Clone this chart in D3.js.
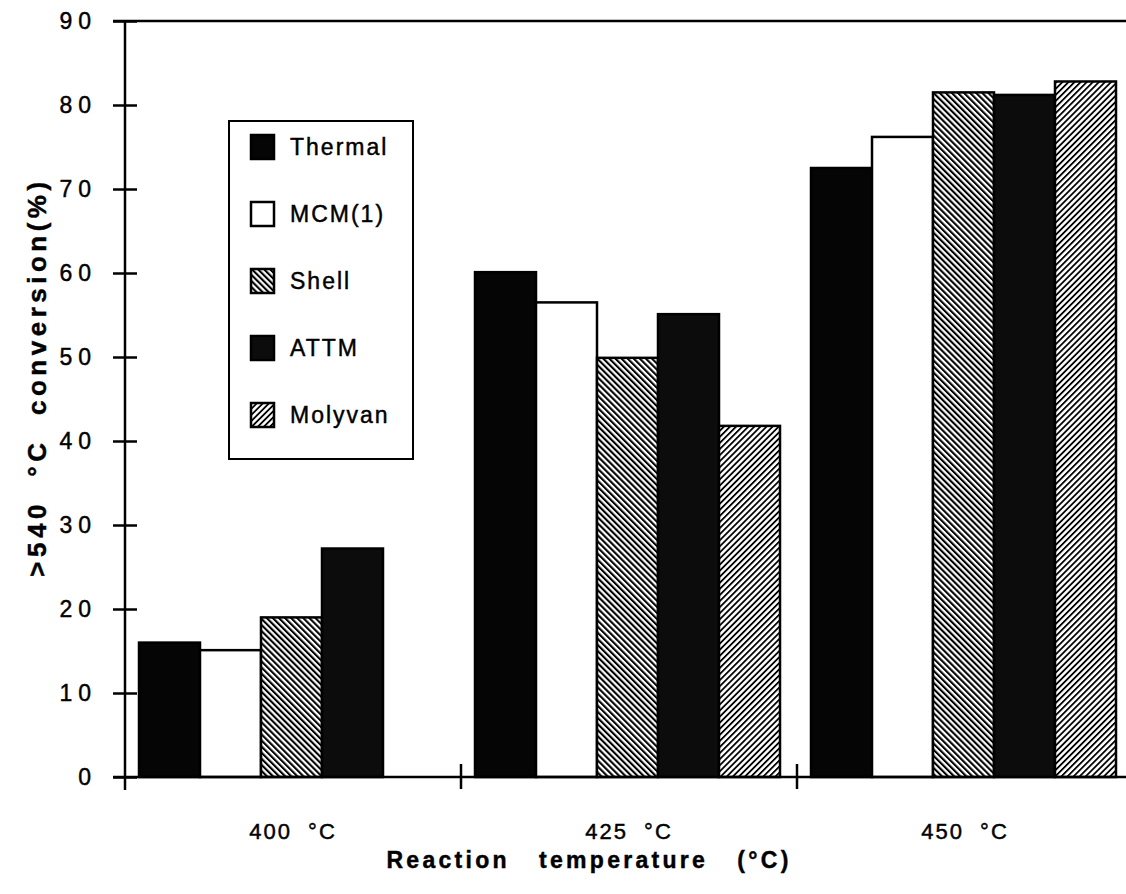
<!DOCTYPE html>
<html>
<head>
<meta charset="utf-8">
<script src="https://cdn.jsdelivr.net/npm/d3@7"></script>
<style>
  body { margin: 0; background: #fff; }
  svg { font-family: "Liberation Sans", Arial, sans-serif; }
  svg text { stroke: #000; stroke-width: 0.45px; fill: #000; }
</style>
</head>
<body>
<svg id="chart" width="1126" height="894"></svg>
<script>
const temps = ["400 °C", "425 °C", "450 °C"];
const series = ["Thermal", "MCM(1)", "Shell", "ATTM", "Molyvan"];
const thermal = [16.0, 60.1, 72.5];
const mcm = [15.1, 56.5, 76.2];
const shell = [19.0, 49.9, 81.5];
const attm = [27.2, 55.1, 81.2];
const molyvan = [null, 41.8, 82.8];
const yTicks = [0, 10, 20, 30, 40, 50, 60, 70, 80, 90];

const values = [thermal, mcm, shell, attm, molyvan];
const fills = ["#050505", "#fff", "url(#shellPat)", "#0c0c0c", "url(#molyPat)"];

const svg = d3.select("#chart");

// hatch patterns
const defs = svg.append("defs");
function hatch(id, angle, w) {
    const p = defs.append("pattern")
        .attr("id", id)
        .attr("patternUnits", "userSpaceOnUse")
        .attr("width", 4.3).attr("height", 10)
        .attr("patternTransform", `rotate(${angle})`);
    p.append("rect").attr("width", 4.3).attr("height", 10).attr("fill", "#fff");
    p.append("rect").attr("width", w).attr("height", 10).attr("fill", "#000");
}
hatch("shellPat", -45, 2.1);
hatch("molyPat", 45, 1.8);

const x = d3.scaleBand().domain(temps).range([125, 1133]);
const xi = d3.scaleBand().domain(series).range([14, 319]);
const y = d3.scaleLinear().domain([0, 90]).range([777, 21]);

// frame line at top
svg.append("line").attr("x1", 113).attr("x2", 1126).attr("y1", y(90)).attr("y2", y(90))
    .attr("stroke", "#000").attr("stroke-width", 2.5);

// bars
const rows = [];
temps.forEach((t, gi) => {
    series.forEach((s, si) => {
        if (values[si][gi] != null) rows.push({ t, s, si, v: values[si][gi] });
    });
});
svg.selectAll(".bar")
    .data(rows)
    .enter()
    .append("rect")
    .attr("class", "bar")
    .attr("x", d => x(d.t) + xi(d.s))
    .attr("y", d => y(d.v))
    .attr("width", xi.bandwidth())
    .attr("height", d => y(0) - y(d.v))
    .attr("fill", d => fills[d.si])
    .attr("stroke", "#000")
    .attr("stroke-width", 2.5);

// y axis
const yAxis = svg.append("g")
    .attr("transform", "translate(125,0)")
    .call(d3.axisLeft(y).tickValues(yTicks).tickSize(12).tickPadding(16));
yAxis.select(".domain").remove();
yAxis.selectAll(".tick line").attr("x1", -12).attr("x2", 12).attr("stroke-width", 2.5);
yAxis.selectAll(".tick text")
    .attr("font-size", 23)
    .attr("letter-spacing", 6)
    .attr("font-family", "Liberation Sans, Arial, sans-serif");
svg.append("line").attr("x1", 125).attr("x2", 125).attr("y1", y(90)).attr("y2", 790)
    .attr("stroke", "#000").attr("stroke-width", 2.5);

// x axis
svg.append("line").attr("x1", 113).attr("x2", 1126).attr("y1", y(0)).attr("y2", y(0))
    .attr("stroke", "#000").attr("stroke-width", 2.5);
const xAxis = svg.append("g")
    .attr("transform", `translate(0,${y(0)})`)
    .call(d3.axisBottom(x).tickSize(0).tickPadding(46));
xAxis.select(".domain").remove();
xAxis.selectAll(".tick text")
    .attr("font-size", 22)
    .attr("letter-spacing", 2)
    .attr("font-family", "Liberation Sans, Arial, sans-serif")
    .text(d => d.replace(" ", "\u00a0\u00a0"));
svg.selectAll(".xsep")
    .data(temps.slice(1))
    .enter()
    .append("line")
    .attr("class", "xsep")
    .attr("x1", d => x(d)).attr("x2", d => x(d))
    .attr("y1", y(0) - 13).attr("y2", y(0) + 12)
    .attr("stroke", "#000").attr("stroke-width", 2.5);

// axis titles
svg.append("text")
    .attr("x", 589).attr("y", 868)
    .attr("text-anchor", "middle")
    .attr("font-size", 23).attr("font-weight", "bold")
    .attr("letter-spacing", 3.3)
    .style("white-space", "pre")
    .text("Reaction   temperature   (°C)");
svg.append("text")
    .attr("transform", "translate(46,377) rotate(-90)")
    .attr("text-anchor", "middle")
    .attr("font-size", 26).attr("font-weight", "bold")
    .attr("letter-spacing", 4.5)
    .style("white-space", "pre")
    .text(">540  °C  conversion(%)");

// legend
const legend = svg.append("g");
legend.append("rect")
    .attr("x", 229).attr("y", 121).attr("width", 184).attr("height", 338)
    .attr("fill", "#fff").attr("stroke", "#000").attr("stroke-width", 2);
const ly = d3.scalePoint().domain(series).range([147, 415]);
const items = legend.selectAll(".item")
    .data(series)
    .enter()
    .append("g")
    .attr("class", "item")
    .attr("transform", d => `translate(250,${ly(d)})`);
items.append("rect")
    .attr("x", 1).attr("y", -12).attr("width", 23).attr("height", 24)
    .attr("fill", (d, i) => fills[i])
    .attr("stroke", "#000").attr("stroke-width", 2.5);
items.append("text")
    .attr("x", 40).attr("y", 8)
    .attr("font-size", 23)
    .attr("letter-spacing", 2)
    .text(d => d);
</script>
</body>
</html>
